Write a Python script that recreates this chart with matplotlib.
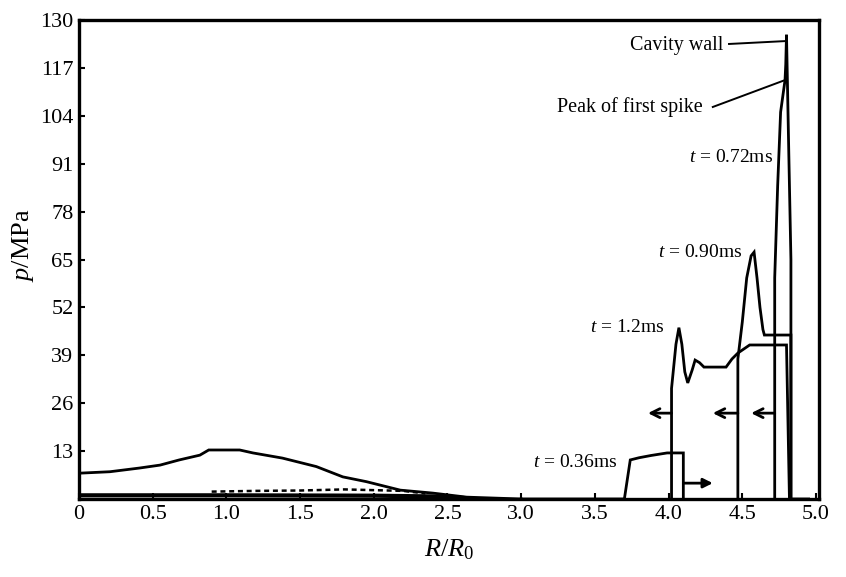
import matplotlib
matplotlib.use("Agg")
import matplotlib.pyplot as plt

plt.rcParams['font.family'] = ['Liberation Serif', 'DejaVu Serif']
plt.rcParams['mathtext.fontset'] = 'custom'
plt.rcParams['mathtext.rm'] = 'Liberation Serif'
plt.rcParams['mathtext.it'] = 'Liberation Serif:italic'

# ---- data (R/R0 , p in MPa) ----
t036_x = [3.0, 3.70, 3.74, 3.80, 3.88, 3.99, 4.10, 4.10]
t036_y = [0.0, 0.0, 10.6, 11.2, 11.8, 12.5, 12.5, 0.0]

t072_x = [4.72, 4.72, 4.74, 4.76, 4.79, 4.795, 4.80, 4.815, 4.83, 4.83, 4.95]
t072_y = [0.0, 60.0, 85.0, 105.0, 113.7, 118.0, 126.0, 95.0, 65.0, 0.0, 0.0]

t090_x = [4.47, 4.47, 4.50, 4.53, 4.56, 4.58, 4.60, 4.62, 4.64, 4.65, 4.83, 4.83]
t090_y = [0.0, 38.0, 48.0, 60.0, 66.0, 67.0, 60.0, 52.0, 46.0, 44.5, 44.5, 0.0]

t120_x = [4.02, 4.02, 4.05, 4.07, 4.09, 4.11, 4.13, 4.16, 4.18, 4.21, 4.24, 4.39, 4.43, 4.47, 4.55, 4.80, 4.82]
t120_y = [0.0, 30.0, 42.0, 46.5, 42.0, 34.5, 31.5, 35.0, 37.7, 37.0, 35.8, 35.8, 38.0, 39.6, 41.8, 41.8, 0.0]

early_x = [0.0, 0.21, 0.41, 0.55, 0.68, 0.82, 0.88, 1.09, 1.18, 1.38, 1.61, 1.79, 1.95, 2.18, 2.40, 2.63, 3.0]
early_y = [7.0, 7.4, 8.4, 9.2, 10.6, 11.9, 13.3, 13.3, 12.5, 11.1, 8.8, 6.0, 4.7, 2.4, 1.6, 0.5, 0.0]

base_x = [0.0, 1.0, 2.0, 2.4, 2.6]
base_y = [1.0, 1.0, 0.9, 0.7, 0.3]

dash_x = [0.9, 1.2, 1.5, 1.8, 2.0, 2.2, 2.35]
dash_y = [2.0, 2.2, 2.3, 2.6, 2.4, 2.2, 1.5]

# arrows: (start x, end x, y)
arrows_left = [(4.02, 3.86, 23.3), (4.47, 4.30, 23.3), (4.72, 4.56, 23.3)]
arrow_right = (4.10, 4.30, 4.3)

xticks = [0, 0.5, 1.0, 1.5, 2.0, 2.5, 3.0, 3.5, 4.0, 4.5, 5.0]
xticklabels = ["0", "0.5", "1.0", "1.5", "2.0", "2.5", "3.0", "3.5", "4.0", "4.5", "5.0"]
yticks = [13, 26, 39, 52, 65, 78, 91, 104, 117, 130]

fig = plt.figure(figsize=(8.46, 5.77), dpi=100)
ax = fig.add_axes([0.0934, 0.1352, 0.8746, 0.8301])

lw = 2.0
for xs, ys in [(t036_x, t036_y), (t072_x, t072_y), (t090_x, t090_y),
               (t120_x, t120_y), (early_x, early_y)]:
    ax.plot(xs, ys, color='black', lw=lw, solid_joinstyle='miter')
ax.plot(base_x, base_y, color='black', lw=3.0)
ax.plot(dash_x, dash_y, color='black', lw=1.8, ls=(0, (2, 1.5)))

for x0, x1, y in arrows_left:
    ax.annotate('', xy=(x1, y), xytext=(x0, y),
                arrowprops=dict(arrowstyle='->', lw=2.0, color='black',
                                mutation_scale=16, shrinkA=0, shrinkB=0))
ax.annotate('', xy=(arrow_right[1], arrow_right[2]), xytext=(arrow_right[0], arrow_right[2]),
            arrowprops=dict(arrowstyle='-|>', lw=2.0, color='black',
                            mutation_scale=14, shrinkA=0, shrinkB=0))

fs_t = 14
fs_ann = 14.5
ax.text(3.08, 10.0, r'$t$ = 0.36ms', fontsize=fs_t, va='center', ha='left')
ax.text(3.47, 46.5, r'$t$ = 1.2ms', fontsize=fs_t, va='center', ha='left')
ax.text(3.93, 67.0, r'$t$ = 0.90ms', fontsize=fs_t, va='center', ha='left')
ax.text(4.14, 92.8, r'$t$ = 0.72ms', fontsize=fs_t, va='center', ha='left')
ax.text(3.24, 106.4, 'Peak of first spike', fontsize=fs_ann, va='center', ha='left')
ax.text(3.74, 123.0, 'Cavity wall', fontsize=fs_ann, va='center', ha='left')
ax.plot([4.30, 4.79], [106.4, 113.7], color='black', lw=1.4)
ax.plot([4.41, 4.80], [123.5, 124.3], color='black', lw=1.4)

ax.set_xlim(0, 5.02)
ax.set_ylim(0, 130)
ax.set_xticks(xticks)
ax.set_xticklabels(xticklabels)
ax.set_yticks(yticks)
ax.tick_params(direction='in', length=4, width=1.5, labelsize=16, pad=4)
for s in ax.spines.values():
    s.set_linewidth(2.4)

ax.set_ylabel(r'$p$/MPa', fontsize=19)
ax.yaxis.set_label_coords(-0.058, 0.53)
ax.set_xlabel(r'$R/R_0$', fontsize=19, labelpad=10)

fig.savefig('out.png', dpi=100)
